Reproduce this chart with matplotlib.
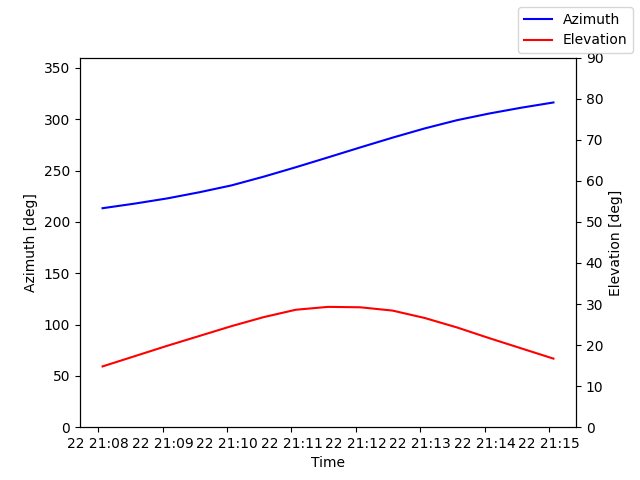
import matplotlib
matplotlib.use("Agg")
import matplotlib.pyplot as plt
import matplotlib.dates as mdates
import pandas as pd

# samples every 30 s starting 21:08:04
times = pd.date_range("2024-01-22 21:08:04", periods=15, freq="30s")
azimuth = [213.3, 217.8, 222.8, 228.8, 235.5, 244.0, 253.2, 262.8,
           272.5, 282.0, 291.0, 299.0, 305.5, 311.2, 316.3]
elevation = [14.8, 17.3, 19.8, 22.2, 24.6, 26.8, 28.6, 29.3,
             29.2, 28.4, 26.6, 24.3, 21.7, 19.2, 16.7]

fig, ax1 = plt.subplots(figsize=(6.4, 4.8))
ax2 = ax1.twinx()

ax1.plot(times, azimuth, color="blue", label="Azimuth")
ax2.plot(times, elevation, color="red", label="Elevation")

ax1.set_ylim(0, 360)
ax2.set_ylim(0, 90)
ax1.set_xlabel("Time")
ax1.set_ylabel("Azimuth [deg]")
ax2.set_ylabel("Elevation [deg]")
ax1.xaxis.set_major_locator(mdates.MinuteLocator())
ax1.xaxis.set_major_formatter(mdates.DateFormatter("%d %H:%M"))

fig.legend(loc="upper right")
plt.savefig("out.png", dpi=100)
